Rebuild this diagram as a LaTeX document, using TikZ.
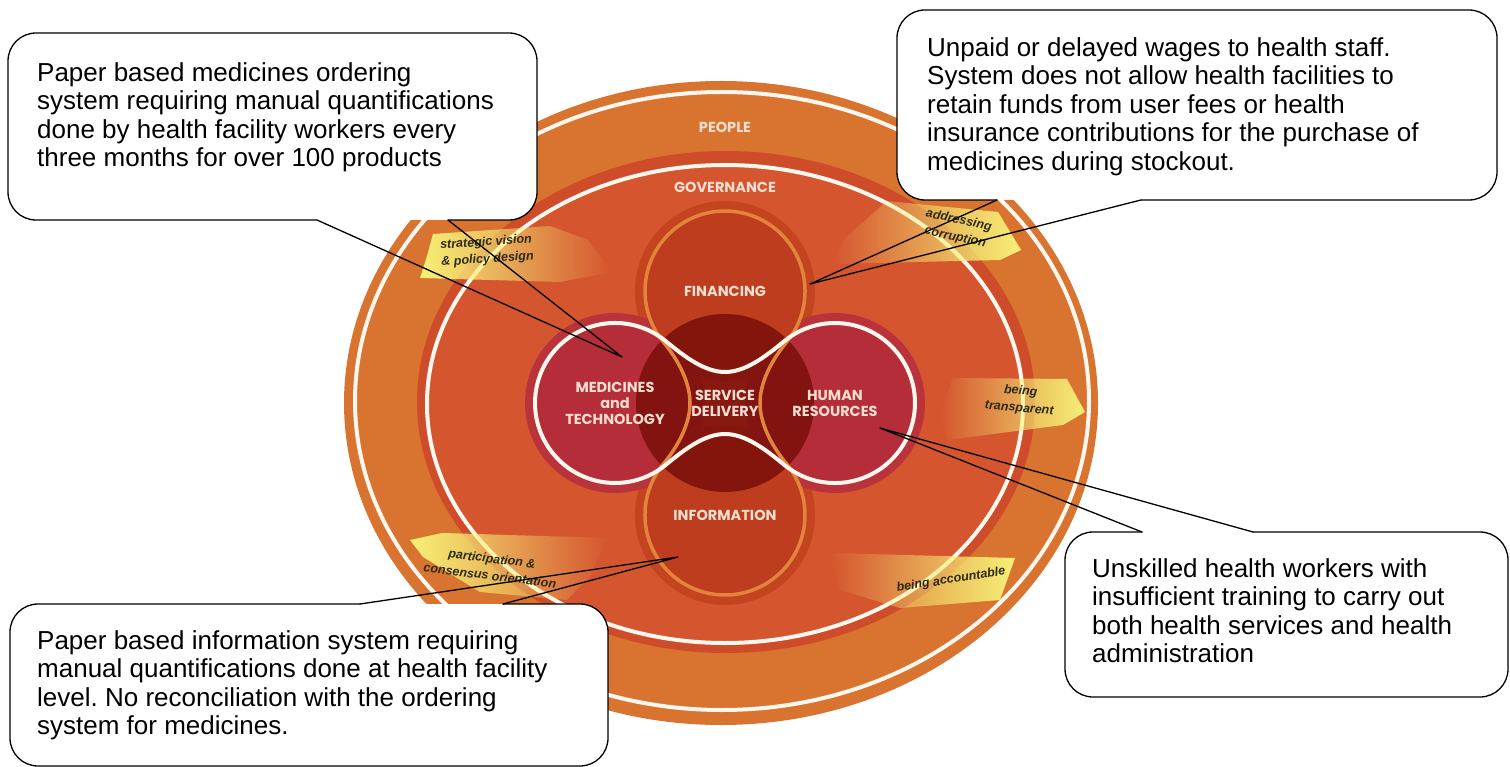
\documentclass[tikz,border=0pt]{standalone}
\usepackage{fontspec}
\setmainfont{Liberation Sans}
\newfontfamily\wheelfont{Poppins}
\frenchspacing
\usetikzlibrary{fadings}
\definecolor{peopleorange}{HTML}{D97330}
\definecolor{govred}{HTML}{CE4C2A}
\definecolor{innerred}{HTML}{D5552F}
\definecolor{finred}{HTML}{BD3D1E}
\definecolor{finhalo}{HTML}{C4441F}
\definecolor{medred}{HTML}{B42D38}
\definecolor{medhalo}{HTML}{BB333A}
\definecolor{sdred}{HTML}{7B0F0B}
\definecolor{ringorange}{HTML}{E2843C}
\definecolor{ringwhite}{HTML}{FFF7EE}
\definecolor{labeltext}{HTML}{F4DED0}
\definecolor{ribbonyellow}{HTML}{F7F078}
\definecolor{ribbontext}{HTML}{2E2A1A}
\tikzfading[name=fadeR, left color=transparent!0, middle color=transparent!0, right color=transparent!100]
\tikzfading[name=fadeL, left color=transparent!100, middle color=transparent!0, right color=transparent!0]
\begin{document}
\begin{tikzpicture}[x=1pt, y=-1pt,
        ring/.style={draw=ringwhite, line width=4pt},
        part/.style={circle, minimum size=160pt, inner sep=0pt},
        lbl/.style={align=center, text=labeltext, font=\wheelfont\bfseries\fontsize{14.5}{16}\selectfont},
        ribbon/.style={fill=ribbonyellow},
        ribtext/.style={font=\bfseries\itshape\fontsize{12.5}{17}\selectfont, text=ribbontext, inner sep=0pt},
        callout/.style={draw=black, line width=1.3pt, line join=round, line cap=round},
        calltext/.style={anchor=north west, align=left, inner sep=0pt, font=\fontsize{26}{28.5}\selectfont}
    ]
        \useasboundingbox (0,0) rectangle (1510,767);

        % wheel
        \fill[peopleorange] (721,403) ellipse[x radius=377, y radius=322];
        \draw[ring] (722,401) ellipse[x radius=367, y radius=309];
        \fill[govred] (726,402) ellipse[x radius=309, y radius=251];
        \draw[ring, fill=innerred] (725,404) ellipse[x radius=298, y radius=239];
        \node[lbl] (people) at (725,127) {PEOPLE};
        \node[lbl] (gov) at (725,187) {GOVERNANCE};

        % ribbons
        \fill[ribbon, path fading=fadeR] (433,234) -- (550,226) -- (588,240) -- (612,272) -- (560,282) -- (420,278) -- (427,256) -- cycle;
        \node[ribtext, align=left, rotate=4] (strat) at (487,251) {strategic vision\\\& policy design};
        \fill[ribbon, path fading=fadeL] (833,264) -- (845,238) -- (887,201) -- (998,212) -- (1021,250) -- (1000,260) -- cycle;
        \node[ribtext, align=center, rotate=-12] (corr) at (957,229) {addressing\\corruption};
        \fill[ribbon, path fading=fadeL] (940,412) -- (953,378) -- (1067,379) -- (1085,412) -- (1063,425) -- (947,440) -- cycle;
        \node[ribtext, align=center, rotate=-5] (transp) at (1020,400) {being\\transparent};
        \fill[ribbon, path fading=fadeR] (410,540) -- (442,533) -- (607,538) -- (590,577) -- (567,600) -- (480,592) -- (423,557) -- cycle;
        \node[ribtext, align=center, rotate=-7] (partic) at (491,567) {participation \&\\consensus orientation};
        \fill[ribbon, path fading=fadeL] (830,553) -- (1015,558) -- (1000,600) -- (900,608) -- (840,590) -- cycle;
        \node[ribtext, rotate=9] (acct) at (951,580) {being accountable};

        % building blocks
        \foreach \cx/\cy/\col in {725/291/finhalo, 725/515/finhalo, 615/403/medhalo, 835/403/medhalo}
            \fill[\col] (\cx,\cy) circle[radius=90];
        \node[part, fill=medred] (med) at (615,403) {};
        \node[part, fill=medred] (hr) at (835,403) {};
        \node[part, fill=finred] (fin) at (725,291) {};
        \node[part, fill=finred] (info) at (725,515) {};
        \node[part, minimum size=178pt, fill=sdred, fill opacity=0.85] (sd) at (725,403) {};

        \draw[ringorange, line width=3.5pt] (663.3,341.9) arc[start angle=140.5, end angle=399.5, radius=80]
            .. controls (770.8,361.2) and (760,383) .. (760,403) .. controls (760,423) and (770.8,444.8) .. (786.7,464.1)
            arc[start angle=-39.5, end angle=219.5, radius=80]
            .. controls (679.2,444.8) and (690,423) .. (690,403) .. controls (690,383) and (679.2,361.2) .. (663.3,341.9) -- cycle;
        \draw[ring] (665.9,341.3) .. controls (685.2,357.2) and (705,372) .. (725,372) .. controls (745,372) and (764.8,357.2) .. (784.1,341.3)
            arc[start angle=230.5, end angle=489.5, radius=80]
            .. controls (764.8,448.8) and (745,434) .. (725,434) .. controls (705,434) and (685.2,448.8) .. (665.9,464.7)
            arc[start angle=50.5, end angle=309.5, radius=80] -- cycle;

        \node[lbl] (finlbl) at (fin) {FINANCING};
        \node[lbl] (infolbl) at (info) {INFORMATION};
        \node[lbl] (medlbl) at (med) {MEDICINES\\and\\TECHNOLOGY};
        \node[lbl] (hrlbl) at (hr) {HUMAN\\RESOURCES};
        \node[lbl] (sdlbl) at (sd) {SERVICE\\DELIVERY};

        % callouts
        \coordinate (t1) at (622,357);
        \coordinate (b1) at (317,220);
        \coordinate (b1r) at (448,220);
        \fill[white, rounded corners=28] (8,33) rectangle (537,220);
        \draw[callout, rounded corners=28] (b1r) -- (537,220) -- (537,33) -- (8,33) -- (8,220) -- (b1);
        \draw[callout] (b1) -- (t1) -- (b1r);
        \node[calltext] (q1) at (37,62) {Paper based medicines ordering\\system requiring manual quantifications\\done by health facility workers every\\three months for over 100 products};

        \coordinate (t2) at (810,284);
        \coordinate (b2) at (997,200);
        \coordinate (b2r) at (1141,200);
        \fill[white, rounded corners=28] (897,10) rectangle (1497,200);
        \draw[callout, rounded corners=28] (b2) -- (897,200) -- (897,10) -- (1497,10) -- (1497,200) -- (b2r);
        \draw[callout] (b2r) -- (t2) -- (b2);
        \node[calltext] (q2) at (927,37) {Unpaid or delayed wages to health staff.\\System does not allow health facilities to\\retain funds from user fees or health\\insurance contributions for the purchase of\\medicines during stockout.};

        \coordinate (t3) at (880,428);
        \coordinate (b3) at (1142,532);
        \coordinate (b3r) at (1253,532);
        \fill[white, rounded corners=28] (1065,532) rectangle (1508,697);
        \draw[callout, rounded corners=28] (b3r) -- (1508,532) -- (1508,697) -- (1065,697) -- (1065,532) -- (b3);
        \draw[callout] (b3) -- (t3) -- (b3r);
        \node[calltext] (q3) at (1092,558) {Unskilled health workers with\\insufficient training to carry out\\both health services and health\\administration};

        \coordinate (t4) at (678,557);
        \coordinate (b4) at (360,604);
        \coordinate (b4r) at (503,604);
        \fill[white, rounded corners=28] (10,604) rectangle (608,766);
        \draw[callout, rounded corners=28] (b4r) -- (608,604) -- (608,766) -- (10,766) -- (10,604) -- (b4);
        \draw[callout] (b4) -- (t4) -- (b4r);
        \node[calltext] (q4) at (37,630) {Paper based information system requiring\\manual quantifications done at health facility\\level. No reconciliation with the ordering\\system for medicines.};
\end{tikzpicture}
\end{document}
